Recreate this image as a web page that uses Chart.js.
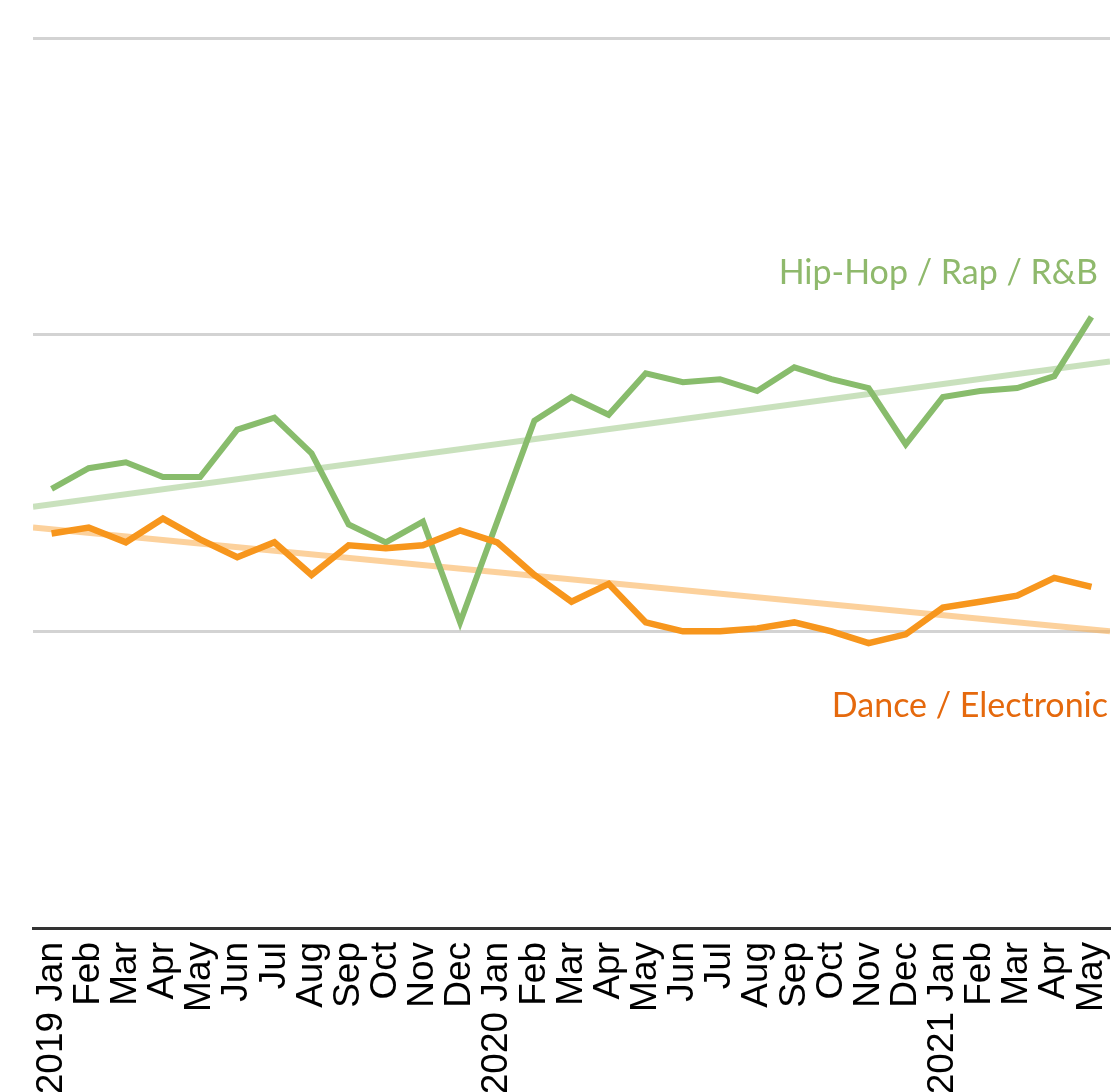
<!DOCTYPE html>
<html>
<head>
<meta charset="utf-8">
<script src="https://cdn.jsdelivr.net/npm/chart.js@4/dist/chart.umd.min.js"></script>
<style>
html,body{margin:0;padding:0;background:#fff;}
#wrap{width:1113px;height:1092px;overflow:hidden;}
</style>
</head>
<body>
<div id="wrap"><canvas id="c" width="1113" height="1092"></canvas></div>
<script>
const months = ['2019 Jan','Feb','Mar','Apr','May','Jun','Jul','Aug','Sep','Oct','Nov','Dec',
  '2020 Jan','Feb','Mar','Apr','May','Jun','Jul','Aug','Sep','Oct','Nov','Dec',
  '2021 Jan','Feb','Mar','Apr','May'];
const hipHop = [1.48,1.55,1.57,1.52,1.52,1.68,1.72,1.60,1.36,1.30,1.37,1.03,
  1.37,1.71,1.79,1.73,1.87,1.84,1.85,1.81,1.89,1.85,1.82,1.63,
  1.79,1.81,1.82,1.86,2.06];
const dance = [1.33,1.35,1.30,1.38,1.31,1.25,1.30,1.19,1.29,1.28,1.29,1.34,
  1.30,1.19,1.10,1.16,1.03,1.00,1.00,1.01,1.03,1.00,0.96,0.99,
  1.08,1.10,1.12,1.18,1.15];
const trendX = [-0.5, 28.5];
const hipHopTrend = [1.42, 1.91];
const danceTrend = [1.35, 1.00];
const yTicks = [0, 1, 2, 3];
const seriesNames = ['Hip-Hop / Rap / R&B', 'Dance / Electronic'];

const GREEN = '#88bc6c';
const ORANGE = '#f7961d';

const labelPlugin = {
  id: 'seriesLabels',
  afterDatasetsDraw(chart) {
    const ctx = chart.ctx;
    const ys = chart.scales.y;
    ctx.save();
    ctx.textAlign = 'right';
    ctx.textBaseline = 'alphabetic';
    ctx.font = '34px Lato';
    ctx.fillStyle = '#8fb96c';
    ctx.fillText(seriesNames[0], chart.chartArea.right - 12, ys.getPixelForValue(2.17));
    ctx.fillStyle = '#e5690d';
    ctx.fillText(seriesNames[1], chart.chartArea.right - 2, ys.getPixelForValue(0.71));
    ctx.restore();
  }
};

new Chart(document.getElementById('c'), {
  type: 'line',
  data: {
    labels: months,
    datasets: [
      { label: seriesNames[0], data: hipHop, borderColor: GREEN, borderWidth: 6, pointRadius: 0, tension: 0, order: 2 },
      { label: seriesNames[1], data: dance, borderColor: ORANGE, borderWidth: 6.5, pointRadius: 0, tension: 0, order: 1 },
      { label: 'trend1', xAxisID: 'xt', data: trendX.map((x,i)=>({x, y: hipHopTrend[i]})), borderColor: 'rgba(136,188,108,0.45)', borderWidth: 6, pointRadius: 0, order: 3 },
      { label: 'trend2', xAxisID: 'xt', data: trendX.map((x,i)=>({x, y: danceTrend[i]})), borderColor: 'rgba(250,178,90,0.6)', borderWidth: 6, pointRadius: 0, order: 4 }
    ]
  },
  options: {
    responsive: false,
    animation: false,
    devicePixelRatio: 1,
    layout: { padding: { left: 33, right: 3, top: 38, bottom: 0 } },
    plugins: { legend: { display: false }, tooltip: { enabled: false } },
    scales: {
      x: {
        type: 'category',
        offset: true,
        grid: { display: false, drawTicks: false },
        border: { display: true, color: '#333333', width: 3 },
        ticks: {
          autoSkip: false, minRotation: 90, maxRotation: 90, padding: 14,
          color: '#000000', font: { family: 'Liberation Sans', size: 37 }
        },
        afterFit(scale) { scale.height = 164; scale.paddingLeft = 0; scale.paddingRight = 0; }
      },
      xt: { type: 'linear', display: false, min: trendX[0], max: trendX[1] },
      y: {
        min: yTicks[0], max: yTicks[yTicks.length - 1],
        afterBuildTicks(scale) { scale.ticks = yTicks.map(v => ({ value: v })); },
        grid: {
          drawTicks: false, lineWidth: 3,
          color: (c) => c.tick && c.tick.value === 0 ? 'rgba(0,0,0,0)' : '#d3d3d3'
        },
        border: { display: false },
        ticks: { display: false }
      }
    }
  },
  plugins: [labelPlugin]
});
</script>
</body>
</html>
